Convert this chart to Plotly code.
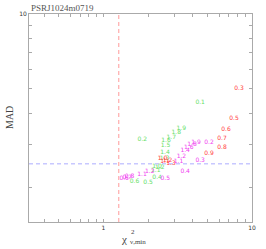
import math
import plotly.graph_objects as go

# ---- data ----
green_lbl = ["0.1", "0.2", "0.4", "0.5", "0.6", "1.0", "1.1", "1.2", "1.3", "1.4", "1.5", "1.6", "1.7", "1.8", "1.9"]
green_x = [4.48, 1.83, 2.30, 2.00, 1.62, 2.30, 2.25, 2.40, 2.58, 2.60, 2.62, 2.64, 2.86, 3.09, 3.34]
green_y = [4.39, 3.12, 2.21, 2.11, 2.13, 2.45, 2.36, 2.41, 2.62, 2.78, 2.95, 3.09, 3.20, 3.33, 3.48]

red_lbl = ["0.3", "0.5", "0.6", "0.7", "0.8", "0.9", "1.0", "1.1", "1.2", "1.3"]
red_x = [8.18, 7.57, 6.69, 6.29, 6.29, 5.14, 2.50, 2.60, 2.70, 2.85]
red_y = [5.00, 3.79, 3.42, 3.15, 2.92, 2.74, 2.62, 2.55, 2.58, 2.50]

mag_lbl = ["0.2", "0.3", "0.4", "0.5", "0.6", "0.7", "0.8", "1.1", "1.2", "1.1", "1.2", "1.4", "1.6", "1.8", "1.9"]
mag_x = [5.14, 4.48, 3.55, 2.61, 1.38, 1.45, 1.50, 1.82, 2.05, 3.20, 3.35, 3.55, 3.75, 3.95, 4.20]
mag_y = [3.06, 2.57, 2.32, 2.19, 2.19, 2.20, 2.22, 2.26, 2.33, 2.55, 2.68, 2.82, 2.92, 3.00, 3.06]

chi2_thresh = 1.27
mad_thresh = 2.5
x_range = [0.316, 10.0]
y_range = [1.46, 10.0]

x_tick_vals = [0.4, 0.5, 0.6, 0.7, 0.8, 0.9, 1, 2, 3, 4, 5, 6, 7, 8, 9, 10]
y_tick_vals = [2, 3, 4, 5, 6, 7, 8, 9, 10]

fig = go.Figure()

# threshold lines
fig.add_trace(go.Scatter(x=[chi2_thresh, chi2_thresh], y=y_range, mode="lines",
                         line=dict(color="#ff9a9a", width=1, dash="4px,3px"), hoverinfo="skip"))
fig.add_trace(go.Scatter(x=x_range, y=[mad_thresh, mad_thresh], mode="lines",
                         line=dict(color="#c8c8ff", width=1.5, dash="4px,3px"), hoverinfo="skip"))

for xs, ys, ls, col in [(green_x, green_y, green_lbl, "#66e066"),
                        (red_x, red_y, red_lbl, "#ff4040"),
                        (mag_x, mag_y, mag_lbl, "#f040f0")]:
    fig.add_trace(go.Scatter(x=xs, y=ys, text=ls, mode="text",
                             textfont=dict(family="DejaVu Sans", size=6, color=col)))

axis_common = dict(type="log", showgrid=False, zeroline=False, showline=True, automargin=False,
                   linecolor="#aaaaaa", linewidth=1, mirror="ticks", ticks="inside",
                   ticklen=3, tickcolor="#aaaaaa", tickfont=dict(family="DejaVu Sans", size=6, color="#333333"))

fig.update_xaxes(**axis_common, range=[math.log10(x_range[0]), math.log10(x_range[1])],
                 tickvals=x_tick_vals,
                 ticktext=["" if v not in (1, 10) else str(v) for v in x_tick_vals])
fig.update_yaxes(**axis_common, range=[math.log10(y_range[0]), math.log10(y_range[1])],
                 tickvals=y_tick_vals,
                 ticktext=["" if v != 10 else "10" for v in y_tick_vals])

L, R, T, B = 29, 14, 14, 27
W, H = 266, 249
pw, ph = W - L - R, H - T - B


def px2paper(px, py):
    return (px - L) / pw, ((H - py) - B) / ph


ann_specs = [
    ("PSRJ1024m0719", 29, 8, 0, "left", 9, "#555555"),
    ("MAD", 9, 118, -90, "center", 10, "#444444"),
    ("χ", 124, 239, 0, "center", 11, "#444444"),
    ("2", 128.5, 232, 0, "left", 7, "#444444"),
    ("ν,min", 128, 242, 0, "left", 7, "#444444"),
]
anns = []
for text, px, py, ang, xa, sz, col in ann_specs:
    ax, ay = px2paper(px, py)
    anns.append(dict(text=text, textangle=ang, showarrow=False, xref="paper", yref="paper",
                     x=ax, y=ay, xanchor=xa, yanchor="middle",
                     font=dict(family="Liberation Serif", size=sz, color=col)))

fig.update_layout(
    width=W, height=H,
    margin=dict(l=L, r=R, t=T, b=B),
    paper_bgcolor="white", plot_bgcolor="white",
    showlegend=False,
    annotations=anns,
)

fig.write_html("out.html", config={"displayModeBar": False},
               post_script="document.body.style.margin='0';")
